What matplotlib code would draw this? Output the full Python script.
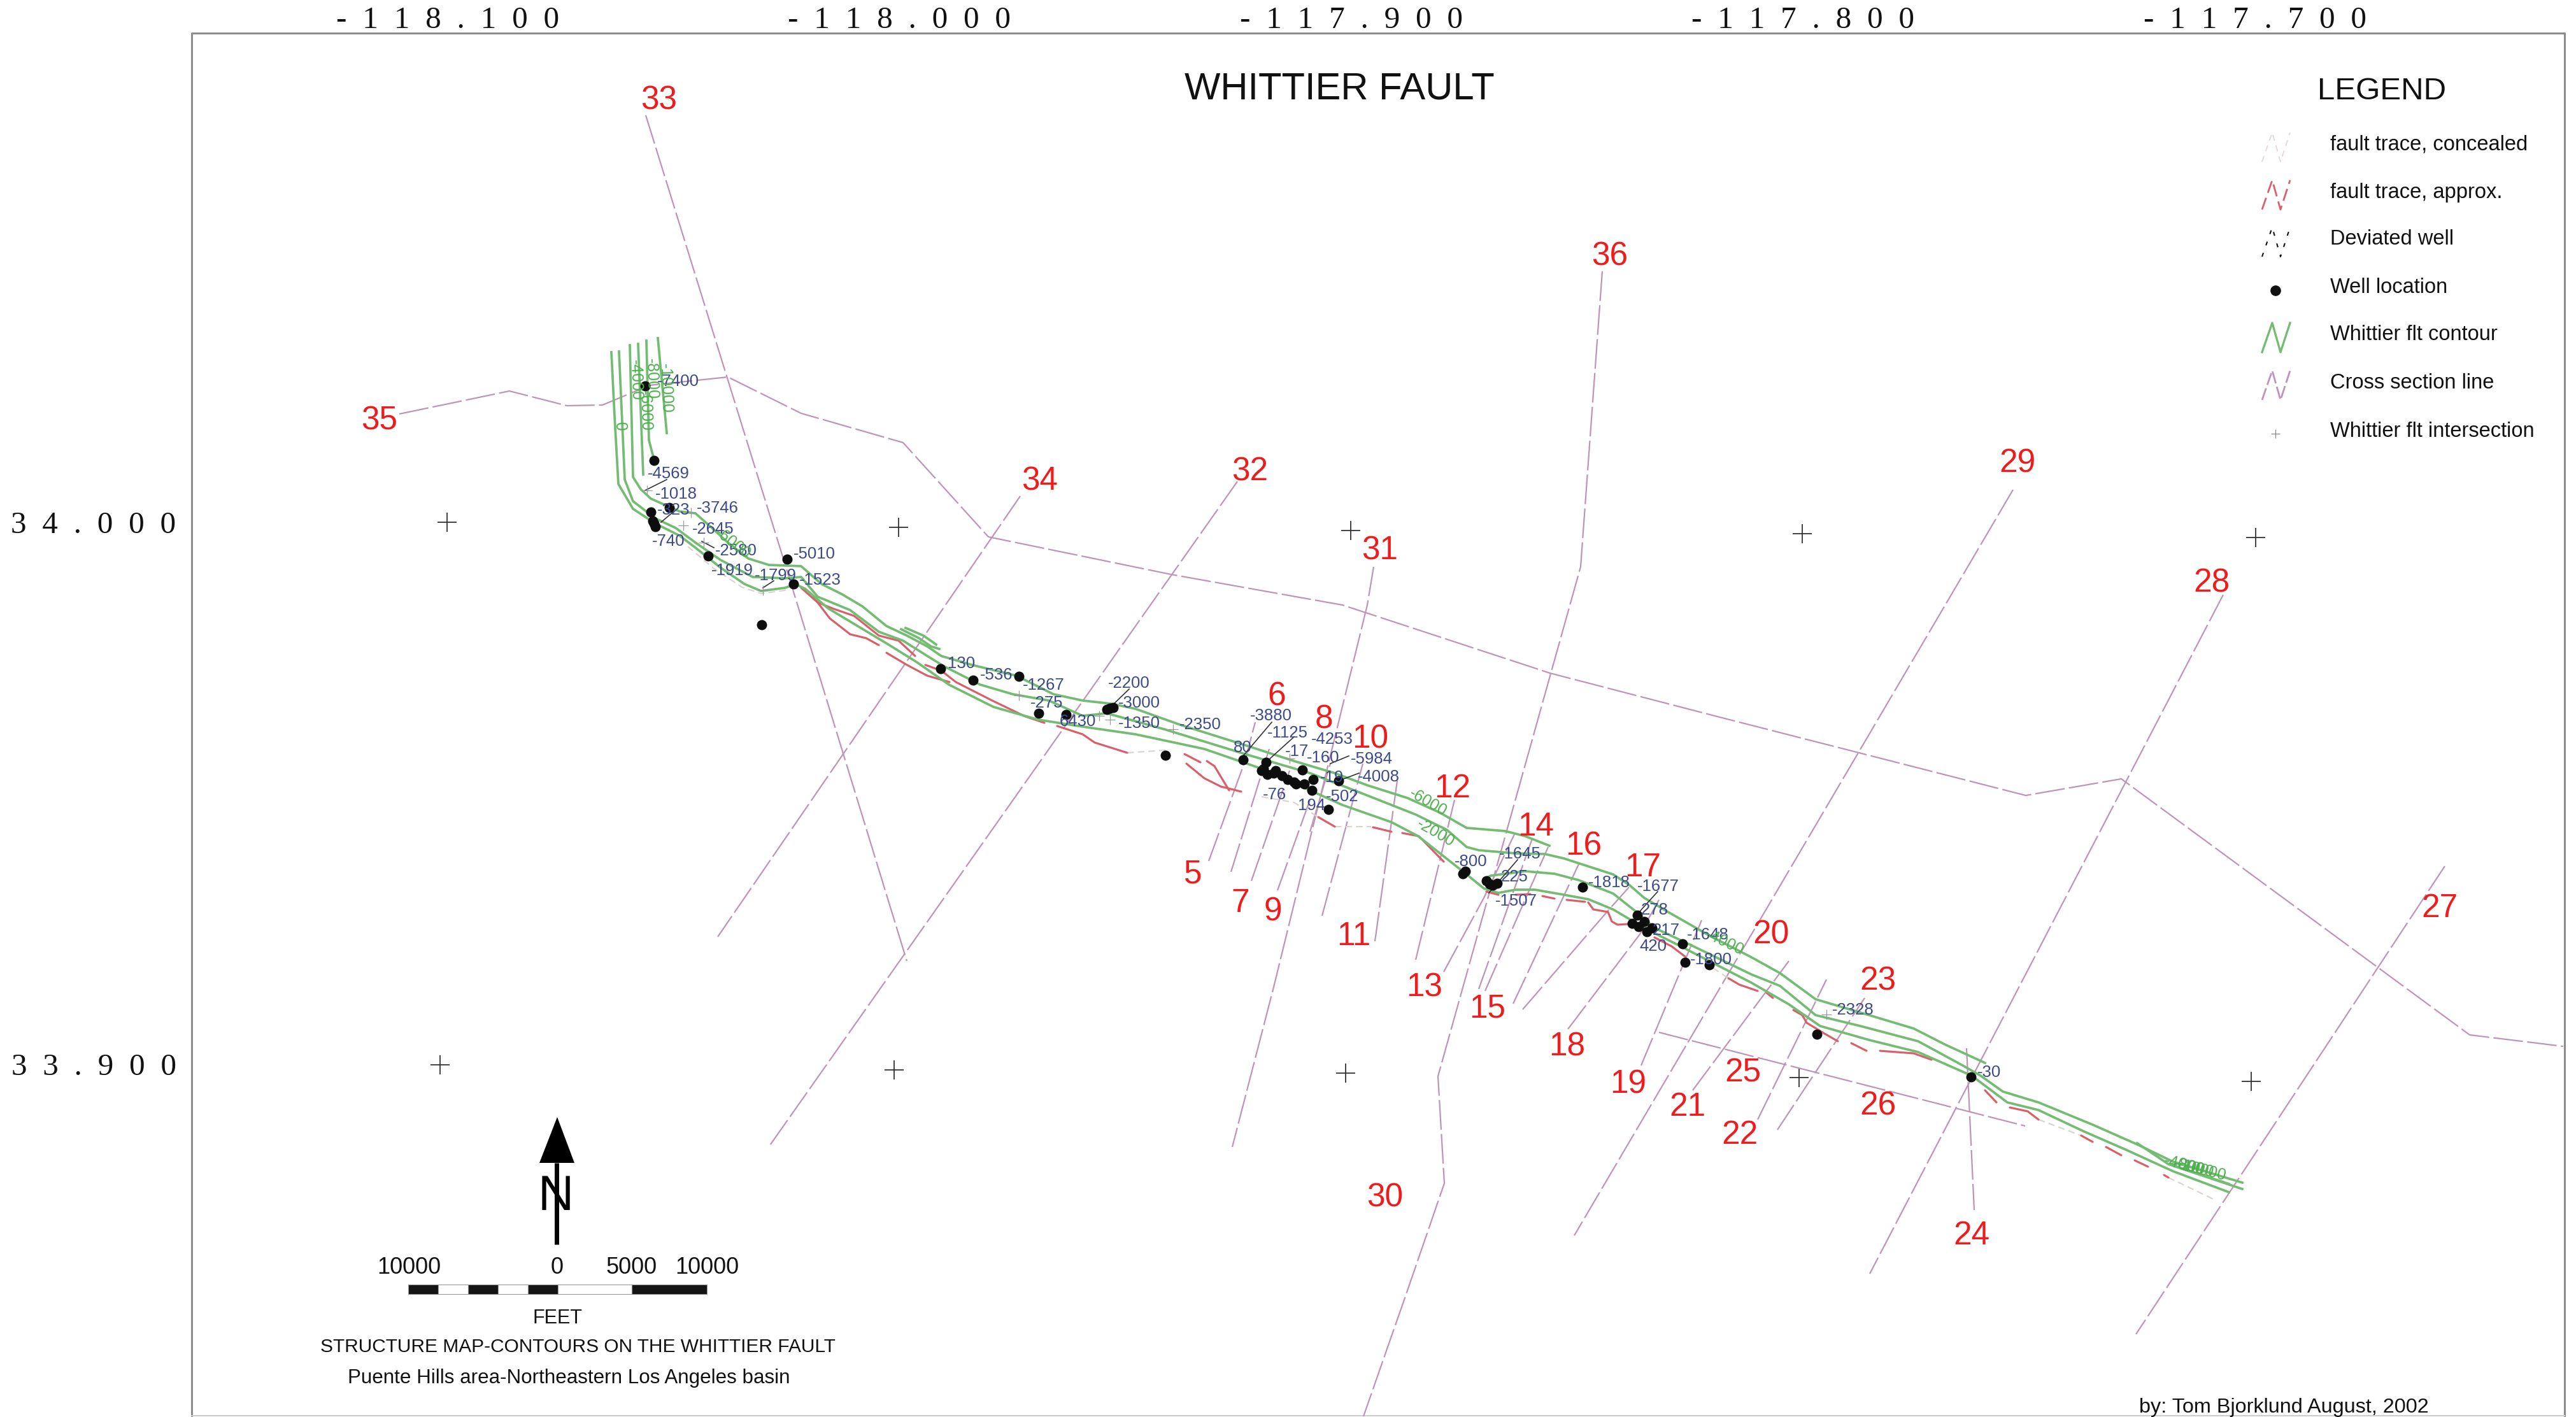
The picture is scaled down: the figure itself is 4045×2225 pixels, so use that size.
import matplotlib
matplotlib.use('Agg')
import matplotlib.pyplot as plt

W, H = 4045, 2225

# all map positions are in the sheet's own coordinates (x right, y down)
contour_a = [(989,542),(994,749),(1006,768),(1022,783),(1067,803),(1092,806),(1118,829),(1143,852),(1175,877),(1207,887),(1258,889),
             (1290,917),(1322,933),(1354,952),(1392,983),(1424,998),(1456,1015),(1478,1030),(1526,1044),(1596,1061),(1654,1090),
             (1700,1100),(1745,1105),(1783,1113),(1853,1138),(1955,1170),(2032,1195),(2096,1214),(2147,1233),(2210,1253),(2261,1276),
             (2303,1300),(2364,1305),(2395,1313),(2433,1328)]
contour_b = [(972,552),(981,753),(994,787),(1029,814),(1061,829),(1092,852),(1131,879),(1182,906),(1233,908),(1258,906),(1284,937),
             (1335,958),(1380,992),(1418,1006),(1456,1030),(1482,1046),(1539,1075),(1590,1090),(1647,1100),(1700,1124),(1738,1120),
             (1828,1145),(1955,1184),(2057,1214),(2147,1249),(2223,1279),(2272,1303),(2303,1330),(2322,1335),(2380,1340),(2426,1341),
             (2456,1348),(2533,1373),(2559,1390),(2582,1410),(2621,1433),(2686,1470),(2750,1503),(2795,1528),(2851,1569),(2935,1594),
             (3005,1615),(3054,1640),(3117,1669)]
contour_c = [(960,553),(965,653),(971,760),(994,799),(1029,822),(1067,841),(1092,860),(1131,891),(1169,917),(1195,928),(1233,923),
             (1249,917),(1265,925),(1300,955),(1345,982),(1395,1012),(1440,1040),(1490,1075),(1560,1110),(1630,1130),(1700,1141),
             (1783,1153),(1891,1176),(1981,1207),(2057,1241),(2108,1264),(2185,1291),(2227,1313),(2265,1343),(2303,1373),(2330,1395),
             (2353,1402),(2380,1397),(2410,1397),(2456,1405),(2494,1412),(2533,1428),(2582,1457),(2647,1490),(2750,1543),(2809,1577),
             (2858,1611),(2935,1633),(3012,1652),(3096,1689),(3152,1731),(3201,1743),(3271,1776),(3342,1807),(3412,1839),(3500,1872)]
contour_d = [(2330,1380),(2341,1375),(2395,1368),(2441,1372),(2479,1382),(2533,1403),(2571,1433),(2598,1457),(2647,1480),(2750,1530),
             (2795,1548),(2851,1594),(2921,1611),(3012,1635),(3082,1673),(3110,1689),(3145,1714),(3201,1731),(3286,1766),(3356,1797),
             (3412,1824),(3521,1857)]
contour_short = [
    [(1002,540),(1010,745)],
    [(1015,535),(1019,691),(1027,722)],
    [(1033,531),(1047,680)],
    [(1415,988),(1443,1002),(1462,1015),(1475,1019)],
    [(1422,986),(1450,998),(1470,1012)],
    [(3356,1795),(3405,1828),(3521,1867)],
    [(3412,1830),(3500,1859)],
]

fault_approx = [
    [(1258,923),(1284,946),(1309,956),(1341,967),(1380,998),(1411,1006),(1437,1030)],
    [(1277,937),(1303,971),(1335,996),(1360,1002),(1380,1013)],
    [(1392,1025),(1424,1044),(1456,1061),(1491,1071)],
    [(1453,1044),(1478,1053),(1501,1071),(1558,1100),(1610,1125),(1640,1135)],
    [(1660,1140),(1700,1153),(1719,1166),(1770,1182)],
    [(1860,1184),(1885,1197)],
    [(1863,1199),(1891,1222),(1917,1235),(1949,1243)],
    [(1895,1195),(1907,1203),(1930,1241)],
    [(2070,1283),(2096,1298)],
    [(2156,1299),(2185,1306)],
    [(2202,1308),(2228,1313),(2267,1353)],
    [(2334,1400),(2353,1405)],
    [(2380,1405),(2403,1404)],
    [(2422,1407),(2441,1411)],
    [(2460,1413),(2489,1416)],
    [(2494,1417),(2502,1428),(2525,1432),(2531,1447),(2540,1452),(2556,1451)],
    [(2598,1472),(2625,1486),(2646,1502)],
    [(2714,1536),(2731,1546),(2760,1556)],
    [(2774,1559),(2784,1567)],
    [(2816,1586),(2830,1594),(2837,1606),(2865,1623),(2886,1635)],
    [(2907,1638),(2931,1650)],
    [(2952,1650),(3005,1654),(3033,1664)],
    [(3117,1712),(3135,1731)],
    [(3156,1739),(3184,1745),(3201,1758)],
    [(3268,1783),(3286,1793)],
    [(3307,1801),(3331,1814)],
    [(3352,1822),(3373,1832)],
    [(3398,1845),(3405,1849)],
]
fault_concealed = [
    [(1770,1182),(1830,1178)],
    [(1981,1251),(2032,1260),(2070,1283)],
    [(2096,1298),(2153,1298)],
    [(2690,1520),(2714,1536)],
    [(3201,1758),(3268,1783)],
    [(3405,1849),(3480,1885)],
    [(1080,858),(1120,892),(1165,922),(1195,932),(1240,926)],
]

section_lines = [
    [(627,650),(800,614),(890,637),(946,636),(1020,605),(1143,592),(1258,649),(1418,695),(1552,843),(1839,902),(2108,950),(2434,1057),
     (2700,1126),(3181,1249),(3331,1223),(3878,1625),(4025,1643)],
    [(1014,181),(1238,903),(1424,1509)],
    [(1602,779),(1127,1471)],
    [(1943,756),(1207,1801)],
    [(2157,890),(2147,950),(2000,1550),(1935,1801)],
    [(2516,426),(2482,890),(2258,1690),(2268,1858),(2206,2038),(2141,2224)],
    [(3161,769),(2472,1940)],
    [(3491,934),(2936,2000)],
    [(3839,1360),(3354,2095)],
    [(3088,1646),(3100,1900)],
    [(1898,1352),(1955,1195),(1971,1134)],
    [(1933,1369),(1993,1176)],
    [(1965,1383),(2025,1210)],
    [(2006,1398),(2057,1256)],
    [(2057,1306),(2089,1199)],
    [(2076,1438),(2140,1199)],
    [(2159,1478),(2194,1226)],
    [(2223,1507),(2284,1256)],
    [(2267,1526),(2330,1410),(2378,1310)],
    [(2322,1553),(2406,1317)],
    [(2332,1556),(2431,1330)],
    [(2376,1576),(2479,1357)],
    [(2391,1585),(2525,1430),(2558,1393)],
    [(2462,1616),(2575,1467),(2605,1413)],
    [(2577,1673),(2672,1445)],
    [(2658,1712),(2809,1509)],
    [(2760,1758),(2868,1538)],
    [(2791,1774),(2928,1567)],
    [(2605,1621),(3180,1768)],
]

section_names = ['33','36','35','34','32','31','29','28','27','6','8','10','12','14','16','17','20','23',
                 '5','7','9','11','13','15','18','19','21','25','22','26','24','30']
section_x = [1035,2528,596,1633,1963,2167,3168,3473,3831,2005,2079,2152,2281,2412,2487,2580,2781,2949,
             1873,1948,1999,2126,2237,2336,2461,2557,2650,2737,2732,2949,3096,2175]
section_y = [158,403,661,756,741,865,728,916,1427,1094,1130,1161,1239,1298,1329,1363,1468,1541,
             1373,1419,1432,1471,1551,1584,1644,1703,1739,1685,1783,1737,1941,1881]

wells_x = [1013,1027,1022,1051,1027,1025,1029,1112,1236,1246,1196,1477,1528,1600,1631,1674,1743,1738,1748,1830,1952,1988,
           1981,1990,2000,2013,2022,2035,2048,2060,1984,2003,2032,2045,2062,2102,2086,2301,2297,2334,2339,2351,2344,2485,
           2571,2582,2563,2573,2586,2594,2642,2646,2684,2853,3095]
wells_y = [606,723,804,797,822,818,827,873,878,917,981,1050,1068,1062,1120,1122,1112,1114,1111,1186,1193,1197,
           1210,1216,1214,1218,1224,1231,1231,1241,1207,1210,1228,1209,1224,1226,1271,1368,1372,1383,1388,1387,1390,1393,
           1437,1447,1450,1455,1463,1457,1482,1511,1515,1624,1691]

deviated = [[(1013,770),(1047,753)],[(1038,820),(1057,804)],[(1102,850),(1121,860)],[(1198,923),(1215,912)],
            [(1743,1111),(1773,1082)],[(1952,1187),(1997,1134)],[(1990,1195),(2032,1157)],[(2102,1226),(2134,1214)],
            [(2089,1199),(2118,1187)],[(2338,1402),(2383,1350)],[(2574,1432),(2603,1400)]]

intersect_x = [1016,1085,1073,1105,1198,1600,1726,1743,1842,2025,2868]
intersect_y = [770,805,825,852,927,1092,1124,1130,1145,1191,1593]

well_labels = ['-7400','-4569','-1018','-323','-3746','-2645','-740','-2580','-5010','-1919','-1799','-1523','130','-536','-1267',
               '-2200','-3000','-1350','-2350','-275','6430','-3880','80','-1125','-4253','-17','-160','-5984','-19','-4008',
               '-76','194','-502','-800','-1645','225','-1507','-1818','-1677','278','217','420','-1648','-1800','-2328','-30']
well_label_x = [1032,1017,1029,1032,1094,1087,1024,1123,1246,1117,1185,1255,1488,1539,1606,
                1740,1756,1756,1852,1618,1664,1963,1937,1990,2059,2018,2052,2121,2073,2132,
                1983,2038,2082,2284,2354,2357,2348,2494,2571,2577,2595,2574,2649,2654,2877,3105]
well_label_y = [599,744,776,801,798,831,850,865,870,896,904,911,1042,1060,1076,
                1073,1104,1136,1138,1104,1133,1124,1174,1151,1161,1180,1190,1192,1221,1220,
                1248,1265,1251,1353,1341,1377,1415,1386,1392,1429,1461,1486,1468,1507,1586,1684]

contour_labels = ['-10000','-8000','-6000','-4000','0','-6000','-6000','-2000','-4000','-4000','-8000','-10000']
contour_label_x = [1045,1023,1013,998,973,1150,2242,2254,2708,3430,3445,3458]
contour_label_y = [610,595,645,597,670,853,1260,1308,1480,1830,1834,1838]
contour_label_rot = [-88,-88,-88,-88,-88,-38,-30,-30,-26,-14,-14,-14]

graticule_x = [702,1411,2121,2830,3542,691,1404,2113,2825,3535]
graticule_y = [820,828,833,838,844,1672,1680,1685,1692,1698]

lon_labels = ['-118.100','-118.000','-117.900','-117.800','-117.700']
lon_x = [703,1412,2122,2831,3541]
lat_labels = ['34.000','33.900']
lat_y = [825,1676]

legend_names = ['fault trace, concealed','fault trace, approx.','Deviated well','Well location',
                'Whittier flt contour','Cross section line','Whittier flt intersection']
legend_y = [227,302,376,451,526,601,677]

scale_edges = [641,688,735,782,829,876,992,1110]
scale_names = ['10000','0','5000','10000']
scale_name_x = [642,875,992,1110]

GREEN = '#74bb74'
LABEL_GREEN = '#4fae4f'
RED = '#d9606a'
PURPLE = '#bf94b6'
BLUE = '#3c4a8c'
SANS = 'Liberation Sans'
SERIF = 'Liberation Serif'


def xy(points):
    return [p[0] for p in points], [p[1] for p in points]


def spaced(s):
    return '  '.join(s)


fig = plt.figure(figsize=(W/100., H/100.), dpi=100)
ax = fig.add_axes([0, 0, 1, 1])
ax.set_xlim(0, W)
ax.set_ylim(H, 0)
ax.axis('off')

# sheet frame
ax.plot([301, 301, 4027, 4027], [H, 52, 52, H], color='#8c8c8c', lw=2.2, zorder=1)
ax.plot([301, 4027], [2223, 2223], color='#cccccc', lw=1.5, zorder=1)

for x, s in zip(lon_x, lon_labels):
    ax.text(x, 32, spaced(s), family=SERIF, fontsize=35.5, ha='center', va='center', color='#111111')
for y, s in zip(lat_y, lat_labels):
    ax.text(147, y, spaced(s), family=SERIF, fontsize=35.5, ha='center', va='center', color='#111111')

ax.plot(graticule_x, graticule_y, '+', color='#333333', ms=21, mew=1.3, zorder=2)

for line in section_lines:
    ax.plot(*xy(line), color=PURPLE, lw=1.6, dashes=(21, 3), zorder=2)

for line in fault_concealed:
    ax.plot(*xy(line), color='#d8d3cc', lw=1.5, dashes=(5, 3), zorder=3)
for line in fault_approx:
    ax.plot(*xy(line), color=RED, lw=2.3, solid_capstyle='round', zorder=3)

for line in [contour_a, contour_b, contour_c, contour_d] + contour_short:
    ax.plot(*xy(line), color=GREEN, lw=2.7, zorder=4)

for line in deviated:
    ax.plot(*xy(line), color='#333333', lw=1.2, zorder=5)
ax.plot(intersect_x, intersect_y, '+', color='#999999', ms=11, mew=0.9, zorder=5)
ax.plot(wells_x, wells_y, 'o', color='#0d0d0d', ms=11.5, mew=0, zorder=6)

for x, y, s in zip(well_label_x, well_label_y, well_labels):
    ax.text(x, y, s, family=SANS, fontsize=18.5, color=BLUE, ha='left', va='center', zorder=7)
for x, y, s, r in zip(contour_label_x, contour_label_y, contour_labels, contour_label_rot):
    ax.text(x, y, s, family=SANS, fontsize=18, color=LABEL_GREEN, ha='center', va='center', rotation=r,
            rotation_mode='anchor', zorder=7)
for x, y, s in zip(section_x, section_y, section_names):
    ax.text(x, y, s, family=SANS, fontsize=37, color='#ee1c1c', ha='center', va='center', zorder=8)

ax.text(2103, 140, 'WHITTIER FAULT', family=SANS, fontsize=43, color='#111111', ha='center', va='center')

# legend
ax.text(3740, 143, 'LEGEND', family=SANS, fontsize=35.5, color='#111111', ha='center', va='center')
for y, s in zip(legend_y, legend_names):
    ax.text(3659, y, s, family=SANS, fontsize=23.5, color='#111111', ha='left', va='center')
zig_x = [3552, 3568, 3581, 3596]
zig = [[y + 27, y - 19, y + 27, y - 19] for y in legend_y]
ax.plot(zig_x, zig[0], color='#e8d8dc', lw=1.4, dashes=(5, 4))
ax.plot(zig_x, zig[1], color=RED, lw=2, dashes=(7, 3))
ax.plot(zig_x, zig[2], color='#111111', lw=1.5, dashes=(3, 6))
ax.plot([3573], [456], 'o', color='#111111', ms=12, mew=0)
ax.plot(zig_x, zig[4], color=GREEN, lw=2.4)
ax.plot(zig_x, zig[5], color=PURPLE, lw=2, dashes=(7, 2))
ax.plot([3573], [681], '+', color='#888888', ms=10, mew=0.9)

# north arrow
ax.fill([875, 847, 902], [1754, 1826, 1826], color='black', lw=0)
ax.plot([874, 874], [1826, 1954], color='black', lw=5, solid_capstyle='butt')
ax.text(873, 1879, 'N', family=SANS, fontsize=56, color='black', ha='center', va='center')

# scale bar
for i in range(len(scale_edges) - 1):
    ax.fill_between(scale_edges[i:i+2], 2017, 2032, facecolor='#151515' if i % 2 == 0 else 'white',
                    edgecolor='#999999', lw=0.8)
for x, s in zip(scale_name_x, scale_names):
    ax.text(x, 1990, s, family=SANS, fontsize=26, color='#111111', ha='center', va='center')
ax.text(875, 2070, 'FEET', family=SANS, fontsize=22, color='#111111', ha='center', va='center')
ax.text(907, 2115, 'STRUCTURE MAP-CONTOURS ON THE WHITTIER FAULT', family=SANS, fontsize=21.5, color='#111111',
        ha='center', va='center')
ax.text(893, 2164, 'Puente Hills area-Northeastern Los Angeles basin', family=SANS, fontsize=22.6, color='#111111',
        ha='center', va='center')
ax.text(3586, 2210, 'by: Tom Bjorklund August, 2002', family=SANS, fontsize=23.3, color='#111111', ha='center', va='center')

fig.savefig('out.png', dpi=100, facecolor='white')
